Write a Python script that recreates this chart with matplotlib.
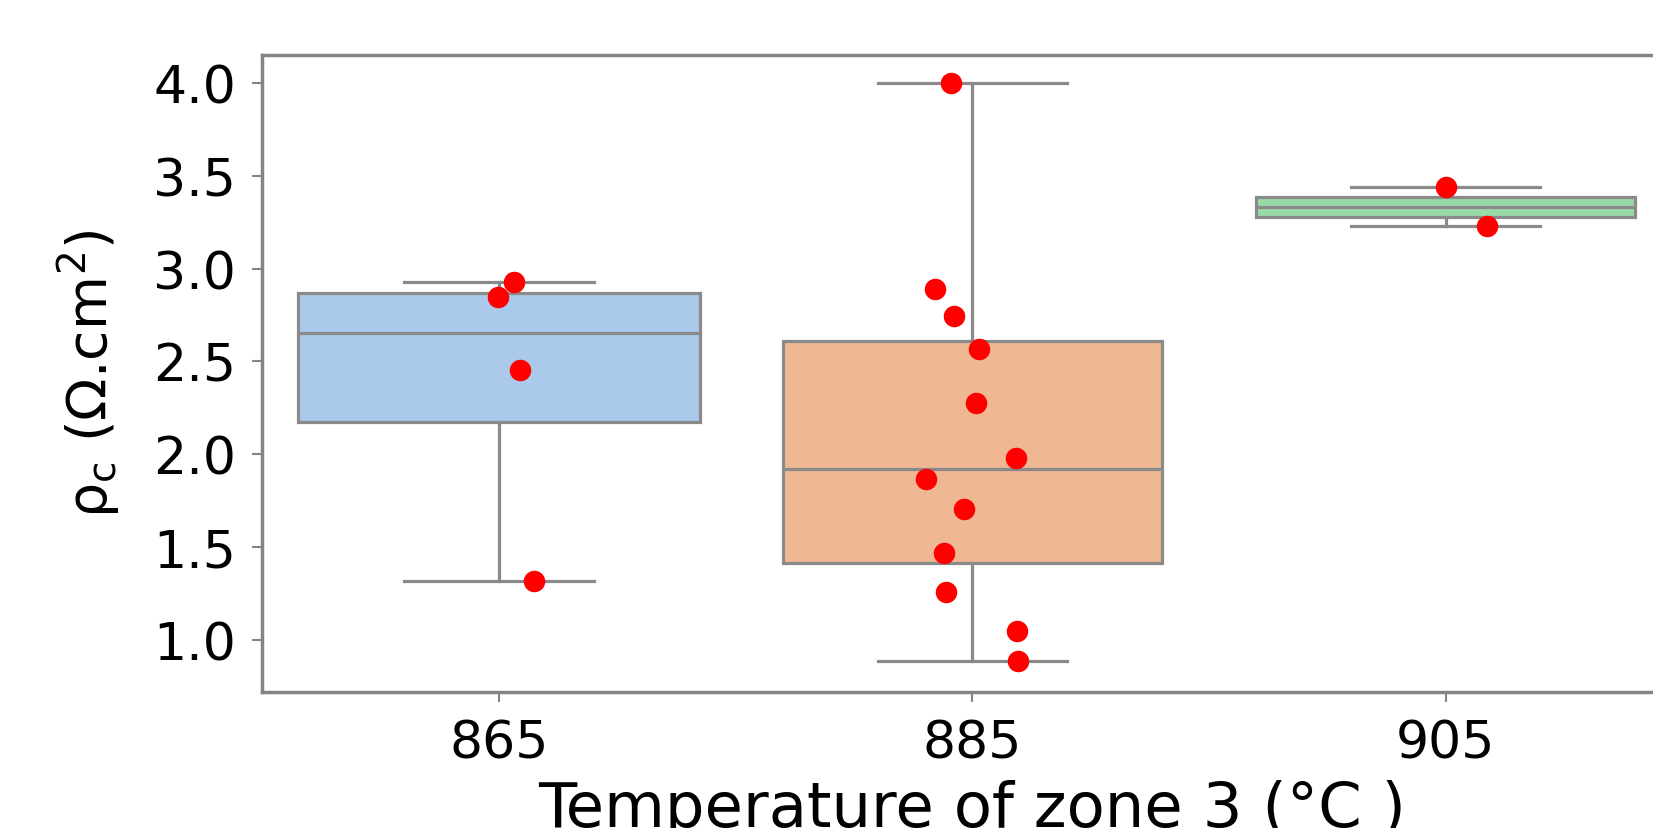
"""Box plot of contact resistivity vs zone-3 temperature, with jittered points."""

import matplotlib
matplotlib.use("Agg")
import matplotlib.pyplot as plt

# categories
temps = ["865", "885", "905"]

# measured rho_c values per temperature (Ohm.cm^2)
rho_865 = [2.926, 2.847, 2.455, 1.318]
rho_885 = [4.00, 2.892, 2.744, 2.568, 2.278, 1.977, 1.864, 1.705, 1.466, 1.256, 1.045, 0.886]
rho_905 = [3.437, 3.227]

# horizontal jitter of each point (category units)
jit_865 = [0.031, -0.002, 0.045, 0.073]
jit_885 = [-0.045, -0.080, -0.040, 0.013, 0.007, 0.091, -0.098, -0.018, -0.060, -0.056, 0.094, 0.096]
jit_905 = [0.0, 0.087]

# seaborn "pastel" desaturated to 0.75, as boxplot draws them
BOX_COLORS = ["#abc9ea", "#efb792", "#98daa7"]
LINE = "#8a8a8a"
SPINE = "#858585"

groups = [rho_865, rho_885, rho_905]
jitters = [jit_865, jit_885, jit_905]

plt.rcParams["font.family"] = ["DejaVu Sans"]

fig = plt.figure(figsize=(16.53, 8.29), dpi=100)
ax = fig.add_axes([0.1588, 0.1644, 0.859, 0.7686])

line_kw = dict(color=LINE, linewidth=2.3)
bp = ax.boxplot(
    groups, positions=range(len(groups)), widths=[0.85, 0.8, 0.8],
    patch_artist=True, whis=1.5, showfliers=False,
    boxprops=dict(edgecolor=LINE, linewidth=2.3),
    whiskerprops=line_kw, capprops=line_kw, medianprops=line_kw,
    capwidths=0.4,
)
for patch, col in zip(bp["boxes"], BOX_COLORS):
    patch.set_facecolor(col)

for i, (vals, jit) in enumerate(zip(groups, jitters)):
    ax.scatter([i + j for j in jit], vals, s=240, color="red",
               linewidths=0, zorder=5)

ax.set_xlim(-0.5, 2.5)
ax.set_ylim(0.72, 4.153)
ax.set_xticks(range(len(temps)))
ax.set_xticklabels(temps)
ax.set_yticks([1.0, 1.5, 2.0, 2.5, 3.0, 3.5, 4.0])

ax.tick_params(axis="both", labelsize=37.5, length=7, width=1.5,
               color=SPINE, labelcolor="black")
ax.tick_params(axis="y", pad=12)
ax.tick_params(axis="x", pad=12)
for spine in ax.spines.values():
    spine.set_edgecolor(SPINE)
    spine.set_linewidth(2.5)

ax.set_xlabel("Temperature of zone 3 (°C )", fontsize=45, labelpad=8)
ax.set_ylabel(r"ρ$_\mathregular{c}$ (Ω.cm$^\mathregular{2}$)", fontsize=40,
              labelpad=22)

fig.savefig("out.png", dpi=100, facecolor="white")
